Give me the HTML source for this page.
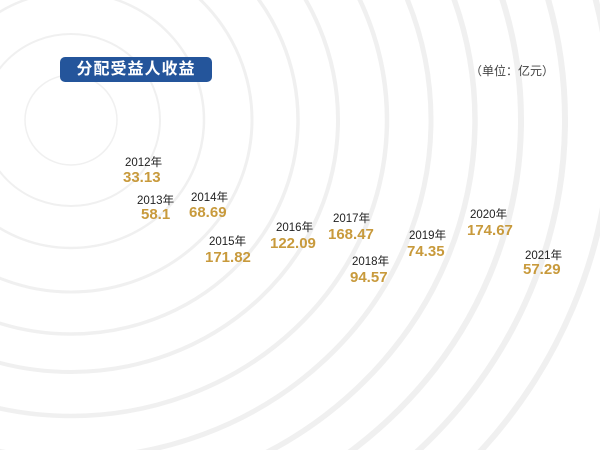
<!DOCTYPE html>
<html><head><meta charset="utf-8"><style>
body{margin:0;width:600px;height:450px;overflow:hidden;background:#fff;position:relative;font-family:"Liberation Sans","Noto Sans CJK SC",sans-serif}
svg{position:absolute;left:0;top:0}
.t{position:absolute;left:60px;top:57px;width:152px;height:25px;background:#24559b;border-radius:5px;color:#fff;font-weight:bold;font-size:16px;line-height:25px;text-align:center;letter-spacing:1px}
.u{position:absolute;left:470px;top:62px;font-size:12px;color:#444}
.y{position:absolute;font-size:11.5px;color:#222;line-height:12px;white-space:nowrap}
.v{position:absolute;font-size:15px;font-weight:bold;color:#c89a3c;line-height:15px;white-space:nowrap}
</style></head><body>
<svg width="600" height="450" fill="none">
<g stroke="#f0f0f0">
<ellipse cx="71" cy="120" rx="46" ry="45" stroke-width="1.5"/>
<ellipse cx="71" cy="120" rx="89" ry="86" stroke-width="2"/>
<ellipse cx="71" cy="120" rx="133" ry="128" stroke-width="2.5"/>
<ellipse cx="71" cy="120" rx="181" ry="172" stroke-width="3"/>
<ellipse cx="71" cy="120" rx="227" ry="214" stroke-width="3.5"/>
<ellipse cx="71" cy="120" rx="267" ry="252" stroke-width="4"/>
<ellipse cx="71" cy="120" rx="316" ry="296" stroke-width="4.5"/>
<ellipse cx="71" cy="120" rx="360" ry="338" stroke-width="5"/>
<ellipse cx="71" cy="120" rx="404" ry="380" stroke-width="5.5"/>
<ellipse cx="71" cy="120" rx="450" ry="423" stroke-width="6"/>
<ellipse cx="71" cy="120" rx="494" ry="465" stroke-width="6"/>
<ellipse cx="71" cy="120" rx="540" ry="508" stroke-width="6"/>
</g></svg>
<div class="t">分配受益人收益</div>
<div class="u">（单位：亿元）</div>
<div class="y" style="left:125px;top:157px">2012年</div><div class="v" style="left:123px;top:170px">33.13</div>
<div class="y" style="left:137px;top:195px">2013年</div><div class="v" style="left:141px;top:207px">58.1</div>
<div class="y" style="left:191px;top:192px">2014年</div><div class="v" style="left:189px;top:205px">68.69</div>
<div class="y" style="left:209px;top:236px">2015年</div><div class="v" style="left:205px;top:250px">171.82</div>
<div class="y" style="left:276px;top:222px">2016年</div><div class="v" style="left:270px;top:236px">122.09</div>
<div class="y" style="left:333px;top:213px">2017年</div><div class="v" style="left:328px;top:227px">168.47</div>
<div class="y" style="left:352px;top:256px">2018年</div><div class="v" style="left:350px;top:270px">94.57</div>
<div class="y" style="left:409px;top:230px">2019年</div><div class="v" style="left:407px;top:244px">74.35</div>
<div class="y" style="left:470px;top:209px">2020年</div><div class="v" style="left:467px;top:223px">174.67</div>
<div class="y" style="left:525px;top:250px">2021年</div><div class="v" style="left:523px;top:262px">57.29</div>
</body></html>
